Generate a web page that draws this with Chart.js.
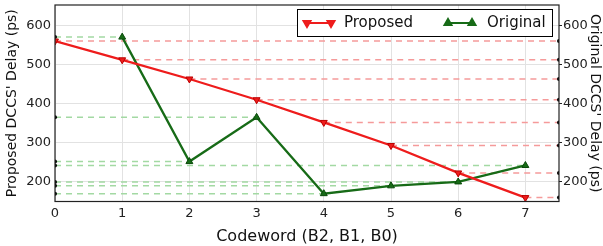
<!DOCTYPE html>
<html><head><meta charset="utf-8">
<script src="https://cdn.jsdelivr.net/npm/chart.js@4/dist/chart.umd.min.js"></script>
<style>html,body{margin:0;padding:0;background:#fff}#wrap{width:603px;height:246px}</style>
</head><body><div id="wrap"><canvas id="c" width="603" height="246"></canvas></div>
<script>
const codewords = [0, 1, 2, 3, 4, 5, 6, 7];
const proposed = [560, 512, 463, 410, 352, 293, 223, 160];
const original = [null, 570, 252, 365, 170, 190, 200, 242];
const yTicks = [200, 300, 400, 500, 600];
const xTicks = [0, 1, 2, 3, 4, 5, 6, 7];
const seriesNames = ['Proposed', 'Original'];

const RED = '#ee1c1c', GREEN = '#176b17';
const FONT = 'DejaVu Sans';

const datasets = [
  { label: seriesNames[0], data: codewords.map((c,i)=>({x:c,y:proposed[i]})), borderColor: RED, backgroundColor: RED,
    borderWidth: 2.3, pointStyle: 'triangle', rotation: 180, pointRadius: 4, pointBorderWidth: 1, pointBorderColor:'#b00', tension: 0 },
  { label: seriesNames[1], data: codewords.map((c,i)=>({x:c,y:original[i]})).filter(p=>p.y!==null), borderColor: GREEN, backgroundColor: GREEN,
    borderWidth: 2.3, pointStyle: 'triangle', pointRadius: 4, pointBorderWidth: 1, pointBorderColor:'#0a4a0a', tension: 0 }
];
codewords.forEach((c,i)=>{
  datasets.push({ label:'_r'+i, data:[{x:c,y:proposed[i]},{x:7.5,y:proposed[i]}], borderColor:'#f59a9a',
    borderWidth:1.5, borderDash:[6,5], pointRadius:[0,2], pointBackgroundColor:'#000', pointBorderWidth:0 });
  if (original[i] !== null) datasets.push({ label:'_g'+i, data:[{x:0,y:original[i]},{x:c,y:original[i]}], borderColor:'#a3d9a3',
    borderWidth:1.5, borderDash:[6,5], pointRadius:[2,0], pointBackgroundColor:'#000', pointBorderWidth:0 });
});

const legendPlugin = {
  id: 'customLegend',
  afterDraw(chart) {
    const ctx = chart.ctx;
    ctx.save();
    ctx.fillStyle = '#fff'; ctx.strokeStyle = '#000'; ctx.lineWidth = 1;
    ctx.fillRect(297.5, 9.5, 255, 27); ctx.strokeRect(297.5, 9.5, 255, 27);
    const entries = [{x1:307,x2:331,tx:344,c:RED,rot:180,name:seriesNames[0]},{x1:448,x2:472,tx:487,c:GREEN,rot:0,name:seriesNames[1]}];
    entries.forEach(e=>{
      ctx.strokeStyle = e.c; ctx.lineWidth = 2; ctx.beginPath(); ctx.moveTo(e.x1,23); ctx.lineTo(e.x2,23); ctx.stroke();
      [e.x1,e.x2].forEach(px=>{
        ctx.fillStyle = e.c;
        Chart.helpers.drawPoint(ctx, {pointStyle:'triangle', rotation:e.rot, radius:4, borderWidth:1}, px, 23);
        ctx.fill();
      });
      ctx.fillStyle = '#111'; ctx.font = '15px "'+FONT+'"'; ctx.textBaseline='middle'; ctx.textAlign='left';
      ctx.fillText(e.name, e.tx, 23);
    });
    const a = chart.chartArea;
    ctx.strokeStyle = '#222'; ctx.lineWidth = 1.2;
    ctx.strokeRect(a.left, a.top, a.right-a.left, a.bottom-a.top);
    ctx.restore();
  }
};

const noPad = s => { s.paddingTop = 0; s.paddingBottom = 0; s.paddingLeft = 0; s.paddingRight = 0; };
const tickFont = {family: FONT, size: 13};
new Chart(document.getElementById('c'), {
  type: 'line',
  data: { datasets },
  options: {
    responsive: false, animation: false, devicePixelRatio: 1,
    layout: { padding: { top: 1, left: 0, right: 0, bottom: 0 } },
    plugins: { legend: { display: false }, tooltip: { enabled: false } },
    scales: {
      x: { type: 'linear', min: 0, max: 7.5,
        afterBuildTicks: s => { s.ticks = xTicks.map(v=>({value:v})); },
        afterFit: s => { s.height = 44.5; noPad(s); },
        grid: { color: '#e2e2e2', drawTicks: false }, border: { display: false },
        ticks: { font: tickFont, color: '#222', padding: 4, maxRotation: 0 },
        title: { display: true, text: 'Codeword (B2, B1, B0)', font: {family: FONT, size: 16}, color: '#111', padding: {top: 2, bottom: 0} } },
      y: { type: 'linear', position: 'left', min: 150, max: 652,
        afterBuildTicks: s => { s.ticks = yTicks.map(v=>({value:v})); },
        afterFit: s => { s.width = 55; noPad(s); },
        grid: { color: '#e2e2e2', drawTicks: false }, border: { display: false },
        ticks: { font: tickFont, color: '#222', padding: 4 },
        title: { display: true, text: "Proposed DCCS' Delay (ps)", font: {family: FONT, size: 14}, color: '#111', padding: {top: 4, bottom: 0} } },
      y2: { type: 'linear', position: 'right', min: 150, max: 652,
        afterBuildTicks: s => { s.ticks = yTicks.map(v=>({value:v})); },
        afterFit: s => { s.width = 44; noPad(s); },
        grid: { drawOnChartArea: false, drawTicks: true, tickLength: 3, color: '#222' }, border: { display: false },
        ticks: { font: tickFont, color: '#222', padding: 1 },
        title: { display: true, text: "Original DCCS' Delay (ps)", font: {family: FONT, size: 14}, color: '#111', padding: {top: 0, bottom: 0} } }
    }
  },
  plugins: [legendPlugin]
});
</script></body></html>
